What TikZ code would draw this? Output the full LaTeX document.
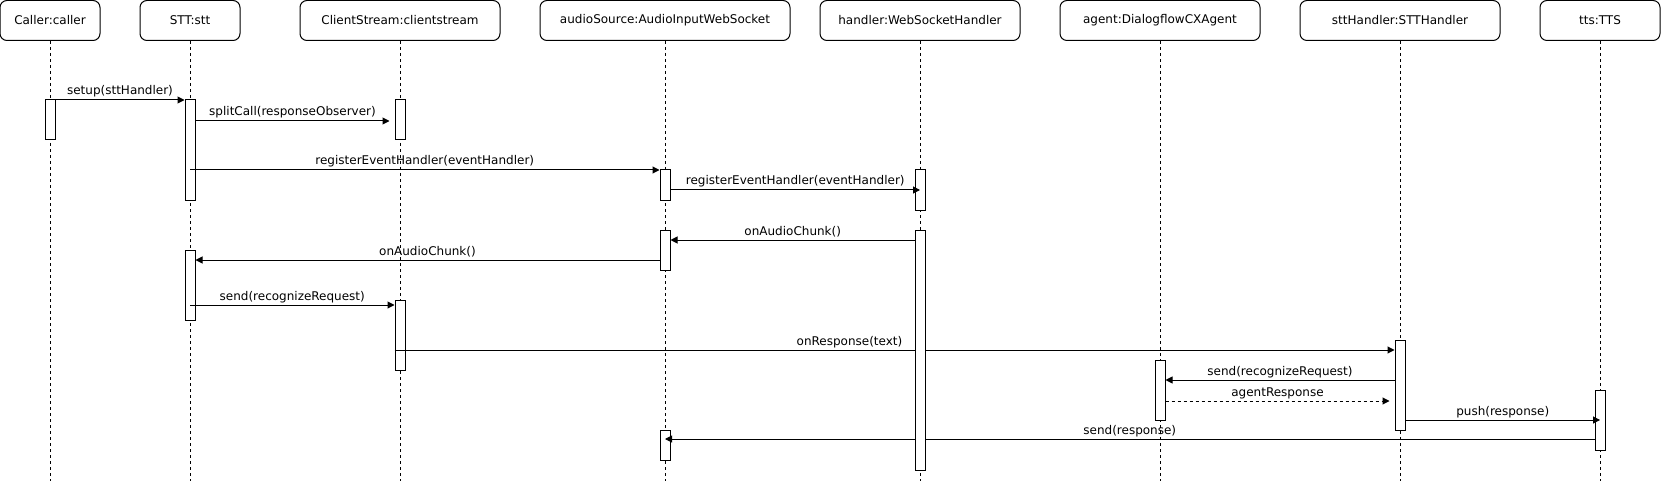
\documentclass[tikz,border=0pt]{standalone}
\usepackage{fontspec}
\setmainfont{DejaVu Sans}
\usetikzlibrary{arrows.meta, positioning, calc}

\begin{document}
\begin{tikzpicture}[x=1pt, y=-1pt, line width=1pt, font=\fontsize{12}{14}\selectfont,
	lifehead/.style={draw, rounded corners=7pt, minimum height=40pt, inner sep=0pt, fill=white},
	lifeline/.style={draw, line width=0.8pt, dash pattern=on 3pt off 3pt},
	actbox/.style={draw, fill=white, minimum width=10pt, inner sep=0pt},
	msg/.style={-{Triangle[length=7pt,width=7pt]}},
	reply/.style={msg, dash pattern=on 3pt off 3pt},
	lbl/.style={anchor=base, yshift=5pt, inner sep=0pt}]
	\useasboundingbox (0,0) rectangle (1661,481);
	
	% participants
	\node[lifehead, minimum width=100pt] (caller) at (50,20.5) {Caller:caller};
	\node[lifehead, minimum width=100pt] (stt) at (190,20.5) {STT:stt};
	\node[lifehead, minimum width=200pt] (clst) at (400,20.5) {ClientStream:clientstream};
	\node[lifehead, minimum width=250pt] (audio) at (665,20.5) {audioSource:AudioInputWebSocket};
	\node[lifehead, minimum width=200pt] (hand) at (920,20.5) {handler:WebSocketHandler};
	\node[lifehead, minimum width=200pt] (agent) at (1160,20.5) {agent:DialogflowCXAgent};
	\node[lifehead, minimum width=200pt] (stth) at (1400,20.5) {sttHandler:STTHandler};
	\node[lifehead, minimum width=120pt] (tts) at (1600,20.5) {tts:TTS};
	
	\coordinate (bottom) at (0,481);
	\foreach \n in {caller,stt,clst,audio,hand,agent,stth,tts}
		\draw[lifeline] (\n.south) -- (\n.south |- bottom);
	
	% activations
	\node[actbox, minimum height=40pt] (callerA) at (50,120) {};
	\node[actbox, minimum height=100pt] (sttA1) at (190,150) {};
	\node[actbox, minimum height=40pt] (clstA1) at (400,120) {};
	\node[actbox, minimum height=30pt] (audioA1) at (665,185) {};
	\node[actbox, minimum height=40pt] (handA1) at (920,190) {};
	\node[actbox, minimum height=40pt] (audioA2) at (665,250) {};
	\node[actbox, minimum height=70pt] (sttA2) at (190,285) {};
	\node[actbox, minimum height=70pt] (clstA2) at (400,335) {};
	\node[actbox, minimum height=90pt] (stthA) at (1400,385) {};
	\node[actbox, minimum height=60pt] (agentA) at (1160,390) {};
	\node[actbox, minimum height=60pt] (ttsA) at (1600,420) {};
	\node[actbox, minimum height=30pt] (audioA3) at (665,445) {};
	
	% message rows
	\foreach \i/\y in {1/100,2/121,3/170,4/190,5/240,6/260,7/305,8/350,9/380,10/401,11/420,12/439}
		\coordinate (r\i) at (0,\y);
	
	\draw[msg] (callerA.east |- r1) -- (sttA1.west |- r1) node[lbl, midway] {setup(sttHandler)};
	\draw[msg] (sttA1.east |- r2) -- ([xshift=-5pt]clstA1.west |- r2) node[lbl, midway] {splitCall(responseObserver)};
	\draw[msg] (stt.south |- r3) -- (audioA1.west |- r3) node[lbl, midway] {registerEventHandler(eventHandler)};
	\draw[msg] (audioA1.east |- r4) -- (hand.south |- r4) node[lbl, midway] {registerEventHandler(eventHandler)};
	\draw[msg] ([xshift=-5pt]hand.south |- r5) -- (audioA2.east |- r5) node[lbl, midway] {onAudioChunk()};
	\draw[msg] (audioA2.west |- r6) -- (sttA2.east |- r6) node[lbl, midway] {onAudioChunk()};
	\draw[msg] (stt.south |- r7) -- (clstA2.west |- r7) node[lbl, midway] {send(recognizeRequest)};
	\draw[msg] (clstA2.west |- r8) -- (stthA.west |- r8) node[lbl, pos=0.455] {onResponse(text)};
	\draw[msg] (stthA.west |- r9) -- (agentA.east |- r9) node[lbl, midway] {send(recognizeRequest)};
	\draw[reply] (agentA.east |- r10) -- ([xshift=-5pt]stthA.west |- r10) node[lbl, midway] {agentResponse};
	\draw[msg] (stthA.east |- r11) -- (tts.south |- r11) node[lbl, midway] {push(response)};
	\draw[msg] (ttsA.west |- r12) -- (audio.south |- r12) node[lbl, midway] {send(response)};
	
	% long handler activation on top
	\node[actbox, minimum height=240pt] (handA2) at (920,350) {};
\end{tikzpicture}
\end{document}
